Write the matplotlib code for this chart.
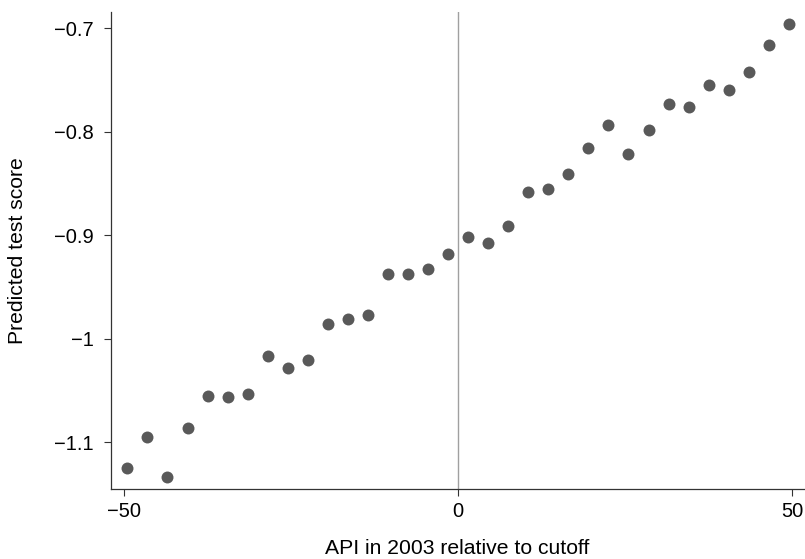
import matplotlib
matplotlib.use("Agg")
import matplotlib.pyplot as plt

# bin midpoints (API relative to cutoff) and predicted score per bin
api_bins = [-49.5, -46.5, -43.5, -40.5, -37.5, -34.5, -31.5, -28.5, -25.5,
            -22.5, -19.5, -16.5, -13.5, -10.5, -7.5, -4.5, -1.5,
            1.5, 4.5, 7.5, 10.5, 13.5, 16.5, 19.5, 22.5, 25.5, 28.5,
            31.5, 34.5, 37.5, 40.5, 43.5, 46.5, 49.5]
pred_score = [-1.1245, -1.0949, -1.1335, -1.0860, -1.0549, -1.0558, -1.0530,
              -1.0162, -1.0278, -1.0205, -0.9853, -0.9812, -0.9770, -0.9377,
              -0.9377, -0.9322, -0.9184,
              -0.9022, -0.9071, -0.8916, -0.8585, -0.8558, -0.8413, -0.8156,
              -0.7932, -0.8213, -0.7981, -0.7732, -0.7765, -0.7549, -0.7594,
              -0.7425, -0.7164, -0.6964]

xticks = [-50, 0, 50]
xtick_labels = ["\u221250", "0", "50"]
yticks = [-1.1, -1.0, -0.9, -0.8, -0.7]
ytick_labels = ["\u22121.1", "\u22121", "\u22120.9", "\u22120.8", "\u22120.7"]

plt.rcParams['font.family'] = ['Liberation Sans', 'DejaVu Sans']

fig = plt.figure(figsize=(8.05, 5.59), dpi=100)
ax = fig.add_axes([0.1375, 0.1247, 0.8615, 0.8538])

ax.axvline(0, color='#a0a0a0', lw=1.0, zorder=1)
ax.plot(api_bins, pred_score, 'o', color='#595959', markersize=8.6,
        markeredgewidth=0, zorder=3)

ax.set_xlim(-52, 51.8)
ax.set_ylim(-1.1454, -0.6845)
ax.set_xticks(xticks)
ax.set_xticklabels(xtick_labels)
ax.set_yticks(yticks)
ax.set_yticklabels(ytick_labels)

for side in ['top', 'right']:
    ax.spines[side].set_visible(False)
for side in ['left', 'bottom']:
    ax.spines[side].set_color('#333333')
    ax.spines[side].set_linewidth(0.9)

ax.tick_params(axis='both', length=5, width=0.8, color='#333333', labelsize=14.5)
ax.tick_params(axis='y', pad=7)
ax.tick_params(axis='x', pad=4)

ax.set_xlabel("API in 2003 relative to cutoff", fontsize=15.2, va='center')
ax.xaxis.set_label_coords(0.5, -0.125)
ax.set_ylabel("Predicted test score", fontsize=15.2, va='center')
ax.yaxis.set_label_coords(-0.134, 0.5)

fig.savefig("out.png", dpi=100)
